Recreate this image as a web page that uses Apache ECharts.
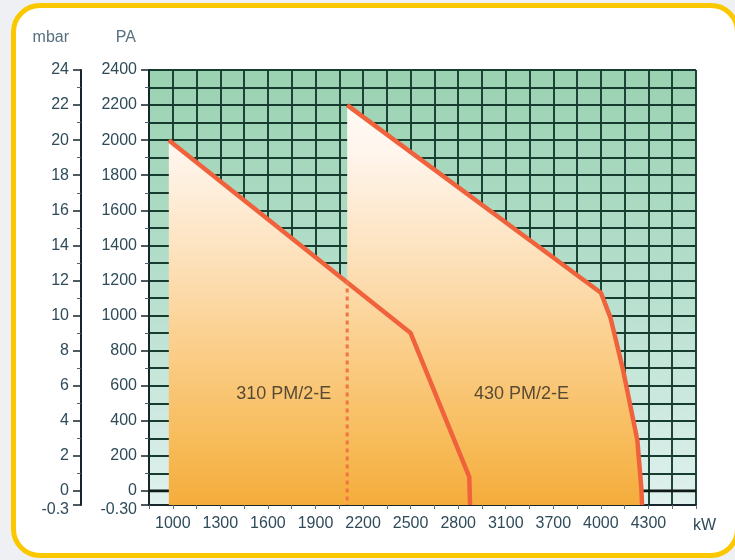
<!DOCTYPE html>
<html><head><meta charset="utf-8">
<script src="https://cdn.jsdelivr.net/npm/echarts@6/dist/echarts.min.js"></script>
<style>
html,body{margin:0;padding:0;background:#eef0f4;width:735px;height:560px;overflow:hidden;}
#frame{position:absolute;left:11px;top:3px;width:729px;height:555px;box-sizing:border-box;border:5px solid #fbc800;border-radius:29px;background:#ffffff;}
#chart{position:absolute;left:0;top:0;width:735px;height:560px;}
</style></head><body>
<div id="frame"></div><div id="chart"></div>
<script>
// ---- data ----
const kwTicks = [1000, 1300, 1600, 1900, 2200, 2500, 2800, 3100, 3700, 4000, 4300];
const kwRange = [850, 4600];
const paTicks = [0, 200, 400, 600, 800, 1000, 1200, 1400, 1600, 1800, 2000, 2200, 2400];
const mbarTicks = [0, 2, 4, 6, 8, 10, 12, 14, 16, 18, 20, 22, 24];
const paRange = [-80, 2400];
const mbarRange = [-0.8, 24];
const paBottomLabel = '-0.30';
const mbarBottomLabel = '-0.3';
const curve310 = [[975, 2000], [2500, 900], [2870, 80], [2875, -80]];
const curve430 = [[2100, 2200], [4000, 1130], [4060, 990], [4140, 690], [4230, 290], [4255, 20], [4260, -80]];
const divider430 = [[2100, 1200], [2100, -80]];
const zeroLevel = 0;
const modelNames = ['310 PM/2-E', '430 PM/2-E'];
const modelLabelAt = [[1700, 550], [3300, 550]];

// kW labels are evenly spaced on the drawing (one label every two grid cells)
function kwToAxis(kw) {
  let i = 0;
  if (kw >= kwTicks[kwTicks.length - 1]) i = kwTicks.length - 2;
  else while (i < kwTicks.length - 2 && kw > kwTicks[i + 1]) i++;
  const f = (kw - kwTicks[i]) / (kwTicks[i + 1] - kwTicks[i]);
  return 1 + 2 * (i + f);
}
const mapPts = arr => arr.map(p => [kwToAxis(p[0]), p[1]]);

const FONT = 'Liberation Sans';
const TXT = '#2f4b5a';
const AX = '#16262a';
const GRIDLINE = '#163c30';

const fillGrad = {
  type: 'linear', x: 0, y: 70, x2: 0, y2: 505, global: true,
  colorStops: [
    {offset: 0, color: '#fffdfa'},
    {offset: 0.18, color: '#fff6ee'},
    {offset: 0.41, color: '#fde3c0'},
    {offset: 0.64, color: '#fbce8a'},
    {offset: 0.87, color: '#f7ba56'},
    {offset: 1, color: '#f5ac3c'}
  ]
};

const chart = echarts.init(document.getElementById('chart'), null, {renderer: 'canvas'});
chart.setOption({
  animation: false,
  backgroundColor: 'transparent',
  grid: {
    left: 149, right: 39, top: 70, bottom: 55,
    show: true, borderWidth: 0,
    outerBoundsMode: 'none',
    backgroundColor: {
      type: 'linear', x: 0, y: 0, x2: 0, y2: 1,
      colorStops: [{offset: 0, color: '#9ad2b1'}, {offset: 0.5, color: '#b6dfcd'}, {offset: 1, color: '#e0f1ee'}]
    }
  },
  xAxis: {
    type: 'value',
    min: kwToAxis(kwRange[0]), max: kwToAxis(kwRange[1]), interval: 1,
    axisLine: {show: true, onZero: false, lineStyle: {color: AX, width: 2}},
    axisTick: {show: true, length: 4, lineStyle: {color: '#5a7080', width: 1}},
    axisLabel: {
      margin: 11, fontSize: 16, fontFamily: FONT, color: TXT,
      formatter: v => {
        const k = Math.round(v);
        if (Math.abs(v - k) > 1e-6 || k % 2 !== 1) return '';
        const i = (k - 1) / 2;
        return i < kwTicks.length ? String(kwTicks[i]) : '';
      }
    },
    splitLine: {show: true, lineStyle: {color: GRIDLINE, width: 1.9}},
    name: 'kW', nameLocation: 'end', nameGap: -3,
    nameTextStyle: {align: 'left', verticalAlign: 'top', padding: [13, 0, 0, 0], fontSize: 16, fontFamily: FONT, color: TXT}
  },
  yAxis: [
    {
      type: 'value', position: 'left',
      min: paRange[0], max: paRange[1], minInterval: 200, maxInterval: 200, splitNumber: 12,
      axisLine: {show: true, onZero: false, lineStyle: {color: AX, width: 2}},
      axisTick: {show: true, length: 8, lineStyle: {color: AX, width: 1.5}},
      minorTick: {show: true, splitNumber: 2, length: 4, lineStyle: {color: '#4a6070', width: 1}},
      splitLine: {show: false},
      axisLabel: {
        margin: 12, fontSize: 16, fontFamily: FONT, color: TXT,
        formatter: v => {
          if (Math.abs(v - paRange[0]) < 1e-6) return '{low|' + paBottomLabel + '}';
          return paTicks.indexOf(Math.round(v)) >= 0 ? String(Math.round(v)) : '';
        },
        rich: {low: {padding: [10, 0, 0, 0], fontSize: 16, fontFamily: FONT, color: TXT}}
      },
      name: 'PA', nameLocation: 'end', nameGap: 24,
      nameTextStyle: {align: 'right', padding: [0, 13, 0, 0], fontSize: 16, fontFamily: FONT, color: '#56707e'}
    },
    {
      type: 'value', position: 'left', offset: 68,
      min: mbarRange[0], max: mbarRange[1], minInterval: 2, maxInterval: 2, splitNumber: 12,
      axisLine: {show: true, onZero: false, lineStyle: {color: AX, width: 2}},
      axisTick: {show: true, length: 8, lineStyle: {color: AX, width: 1.5}},
      minorTick: {show: true, splitNumber: 2, length: 4, lineStyle: {color: '#4a6070', width: 1}},
      splitLine: {show: false},
      axisLabel: {
        margin: 12, fontSize: 16, fontFamily: FONT, color: TXT,
        formatter: v => {
          if (Math.abs(v - mbarRange[0]) < 1e-6) return '{low|' + mbarBottomLabel + '}';
          const r = Math.round(v);
          return (Math.abs(v - r) < 1e-6 && mbarTicks.indexOf(r) >= 0) ? String(r) : '';
        },
        rich: {low: {padding: [10, 0, 0, 0], fontSize: 16, fontFamily: FONT, color: TXT}}
      },
      name: 'mbar', nameLocation: 'end', nameGap: 24,
      nameTextStyle: {align: 'right', padding: [0, 12, 0, 0], fontSize: 16, fontFamily: FONT, color: '#56707e'}
    },
    {
      type: 'value', position: 'left',
      min: paRange[0], max: paRange[1], minInterval: 100, maxInterval: 100, splitNumber: 25,
      axisLine: {show: false}, axisTick: {show: false}, axisLabel: {show: false},
      splitLine: {show: true, lineStyle: {color: GRIDLINE, width: 1.9}}
    }
  ],
  series: [
    {
      type: 'line', yAxisIndex: 0, z: 1, silent: true, symbol: 'none',
      data: [[kwToAxis(kwRange[0]), zeroLevel], [kwToAxis(kwRange[1]), zeroLevel]],
      lineStyle: {color: '#0f1a17', width: 2.8}
    },
    {
      name: modelNames[1], type: 'line', yAxisIndex: 0, z: 2,
      data: mapPts(curve430), symbol: 'none', silent: true,
      lineStyle: {color: '#f0623c', width: 4.5, join: 'round'},
      areaStyle: {origin: 'start', color: fillGrad, opacity: 1}
    },
    {
      name: modelNames[0], type: 'line', yAxisIndex: 0, z: 3,
      data: mapPts(curve310), symbol: 'none', silent: true,
      lineStyle: {color: '#f0623c', width: 4.5, join: 'round'},
      areaStyle: {origin: 'start', color: fillGrad, opacity: 1}
    },
    {
      type: 'line', yAxisIndex: 0, z: 4,
      data: mapPts(divider430), symbol: 'none', silent: true,
      lineStyle: {color: '#f27444', width: 3, type: [4, 4]}
    },
    {
      type: 'scatter', yAxisIndex: 0, z: 5, symbolSize: 0, silent: true,
      data: modelLabelAt.map((p, i) => ({value: [kwToAxis(p[0]), p[1]], name: modelNames[i]})),
      label: {show: true, position: 'inside', formatter: p => p.name, fontSize: 18, fontFamily: FONT, color: '#2e2c25'}
    }
  ]
});
</script>
</body></html>
